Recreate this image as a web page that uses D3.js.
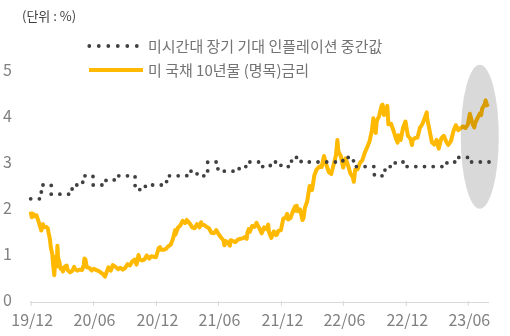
<!DOCTYPE html>
<html><head><meta charset="utf-8">
<script src="https://cdn.jsdelivr.net/npm/d3@7"></script>
<style>
body{margin:0;background:#fff;}
svg{display:block;font-family:"Noto Sans CJK KR","Noto Sans",sans-serif;}
</style></head><body>
<svg id="chart" width="510" height="336"></svg>
<script>
const unitLabel = "(단위 : %)";
const seriesNames = ["미시간대 장기 기대 인플레이션 중간값", "미 국채 10년물 (명목)금리"];
const yTicks = [0, 1, 2, 3, 4, 5];
const xTickDates = ["2019-12-31","2020-06-30","2020-12-31","2021-06-30","2021-12-31","2022-06-30","2022-12-31","2023-06-30"];
const xTickLabels = ["19/12","20/06","20/12","21/06","21/12","22/06","22/12","23/06"];
const axisEndDate = "2023-08-31";

// Michigan 5-10y inflation expectations (monthly, median)
const expMonths = ["2019-12","2020-01","2020-02","2020-03","2020-04","2020-05","2020-06","2020-07","2020-08","2020-09","2020-10","2020-11","2020-12",
  "2021-01","2021-02","2021-03","2021-04","2021-05","2021-06","2021-07","2021-08","2021-09","2021-10","2021-11","2021-12",
  "2022-01","2022-02","2022-03","2022-04","2022-05","2022-06","2022-07","2022-08","2022-09","2022-10","2022-11","2022-12",
  "2023-01","2023-02","2023-03","2023-04","2023-05","2023-06","2023-07","2023-08"];
const expValues = [2.2,2.5,2.3,2.3,2.5,2.7,2.5,2.6,2.7,2.7,2.4,2.5,2.5,
  2.7,2.7,2.8,2.7,3.0,2.8,2.8,2.9,3.0,2.9,3.0,2.9,
  3.1,3.0,3.0,3.0,3.0,3.1,2.9,2.9,2.7,2.9,3.0,2.9,
  2.9,2.9,2.9,3.0,3.1,3.0,3.0,3.0];

// US 10y Treasury yield (nominal)
const ust10y = [
["2019-12-31",1.92],["2020-01-03",1.80],["2020-01-08",1.87],["2020-01-10",1.82],["2020-01-17",1.84],["2020-01-24",1.68],["2020-01-31",1.51],
["2020-02-05",1.65],["2020-02-07",1.58],["2020-02-14",1.59],["2020-02-19",1.56],["2020-02-21",1.47],["2020-02-25",1.33],["2020-02-28",1.13],
["2020-03-03",1.00],["2020-03-06",0.74],["2020-03-09",0.54],["2020-03-11",0.82],["2020-03-13",0.94],["2020-03-16",0.73],["2020-03-18",1.18],
["2020-03-20",0.92],["2020-03-24",0.82],["2020-03-27",0.68],["2020-03-31",0.70],["2020-04-03",0.62],["2020-04-09",0.73],["2020-04-14",0.75],["2020-04-17",0.65],
["2020-04-24",0.60],["2020-05-01",0.64],["2020-05-06",0.72],["2020-05-08",0.68],["2020-05-15",0.64],["2020-05-22",0.66],["2020-05-29",0.65],
["2020-06-03",0.76],["2020-06-05",0.90],["2020-06-08",0.88],["2020-06-12",0.71],["2020-06-19",0.70],["2020-06-26",0.64],["2020-07-02",0.68],
["2020-07-10",0.65],["2020-07-17",0.63],["2020-07-24",0.59],["2020-07-31",0.55],["2020-08-04",0.51],["2020-08-07",0.57],["2020-08-14",0.71],
["2020-08-21",0.64],["2020-08-27",0.76],["2020-09-04",0.72],["2020-09-11",0.67],["2020-09-18",0.70],["2020-09-25",0.66],["2020-10-02",0.70],
["2020-10-09",0.78],["2020-10-16",0.75],["2020-10-23",0.84],["2020-10-30",0.88],["2020-11-04",0.77],["2020-11-06",0.82],["2020-11-10",0.98],
["2020-11-13",0.89],["2020-11-20",0.86],["2020-11-27",0.88],["2020-12-04",0.97],["2020-12-11",0.90],["2020-12-18",0.95],["2020-12-24",0.94],
["2020-12-31",0.93],["2021-01-08",1.13],["2021-01-12",1.15],["2021-01-15",1.09],["2021-01-22",1.09],["2021-01-29",1.11],["2021-02-05",1.17],
["2021-02-12",1.20],["2021-02-19",1.34],["2021-02-25",1.52],["2021-02-26",1.42],["2021-03-05",1.57],["2021-03-12",1.62],["2021-03-19",1.72],
["2021-03-26",1.67],["2021-03-31",1.74],["2021-04-02",1.72],["2021-04-09",1.66],["2021-04-16",1.58],["2021-04-23",1.56],["2021-04-30",1.65],
["2021-05-07",1.58],["2021-05-12",1.69],["2021-05-14",1.63],["2021-05-21",1.63],["2021-05-28",1.59],["2021-06-04",1.56],["2021-06-11",1.46],
["2021-06-18",1.45],["2021-06-25",1.52],["2021-07-02",1.43],["2021-07-09",1.36],["2021-07-16",1.30],["2021-07-19",1.19],["2021-07-23",1.28],
["2021-07-30",1.24],["2021-08-04",1.18],["2021-08-06",1.30],["2021-08-13",1.28],["2021-08-20",1.26],["2021-08-27",1.31],["2021-09-03",1.33],
["2021-09-10",1.34],["2021-09-17",1.37],["2021-09-22",1.33],["2021-09-24",1.46],["2021-09-28",1.54],["2021-10-01",1.48],["2021-10-08",1.61],
["2021-10-15",1.59],["2021-10-21",1.68],["2021-10-22",1.65],["2021-10-29",1.56],["2021-11-05",1.45],["2021-11-12",1.58],["2021-11-19",1.54],
["2021-11-24",1.64],["2021-11-26",1.48],["2021-12-03",1.35],["2021-12-10",1.49],["2021-12-17",1.41],["2021-12-20",1.43],["2021-12-23",1.50],
["2021-12-31",1.52],["2022-01-07",1.77],["2022-01-14",1.79],["2022-01-18",1.87],["2022-01-21",1.75],["2022-01-28",1.78],["2022-02-04",1.93],
["2022-02-10",2.03],["2022-02-11",1.94],["2022-02-15",2.05],["2022-02-18",1.93],["2022-02-25",1.97],["2022-03-04",1.74],["2022-03-07",1.78],
["2022-03-11",2.00],["2022-03-18",2.15],["2022-03-25",2.48],["2022-04-01",2.39],["2022-04-08",2.72],["2022-04-14",2.83],["2022-04-22",2.90],
["2022-04-29",2.89],["2022-05-06",3.13],["2022-05-13",2.93],["2022-05-20",2.78],["2022-05-27",2.74],["2022-06-03",2.94],["2022-06-10",3.15],
["2022-06-14",3.48],["2022-06-17",3.23],["2022-06-24",3.13],["2022-07-01",2.88],["2022-07-08",3.08],["2022-07-15",2.93],["2022-07-22",2.75],
["2022-07-29",2.67],["2022-08-01",2.57],["2022-08-05",2.83],["2022-08-12",2.84],["2022-08-19",2.98],["2022-08-26",3.04],["2022-09-02",3.20],
["2022-09-09",3.32],["2022-09-16",3.45],["2022-09-23",3.69],["2022-09-27",3.95],["2022-09-30",3.83],["2022-10-04",3.63],["2022-10-07",3.89],["2022-10-14",4.00],
["2022-10-21",4.22],["2022-10-24",4.25],["2022-10-28",4.02],["2022-11-04",4.17],["2022-11-07",4.22],["2022-11-10",3.82],["2022-11-18",3.83],
["2022-11-25",3.68],["2022-12-02",3.51],["2022-12-07",3.42],["2022-12-09",3.58],["2022-12-16",3.48],["2022-12-23",3.75],["2022-12-30",3.88],
["2023-01-06",3.57],["2023-01-13",3.51],["2023-01-18",3.37],["2023-01-20",3.48],["2023-01-27",3.52],["2023-02-03",3.53],["2023-02-10",3.74],
["2023-02-17",3.82],["2023-02-24",3.95],["2023-03-02",4.08],["2023-03-03",3.96],["2023-03-10",3.70],["2023-03-17",3.43],["2023-03-24",3.38],
["2023-03-31",3.48],["2023-04-06",3.29],["2023-04-14",3.52],["2023-04-21",3.57],["2023-04-28",3.44],["2023-05-04",3.37],["2023-05-12",3.46],
["2023-05-19",3.67],["2023-05-26",3.80],["2023-06-02",3.69],["2023-06-09",3.74],["2023-06-16",3.77],["2023-06-23",3.74],["2023-06-30",3.81],
["2023-07-06",4.05],["2023-07-14",3.83],["2023-07-19",3.75],["2023-07-21",3.84],["2023-07-28",3.95],["2023-08-04",4.05],["2023-08-08",4.02],
["2023-08-11",4.16],["2023-08-18",4.25],["2023-08-21",4.34],["2023-08-25",4.24],["2023-08-28",4.20]
];
// highlight annotation (date, value) for the grey ellipse centre
const highlightCenter = ["2023-08-04", 3.55];

const parse = d3.timeParse("%Y-%m-%d");
const parseMonth = d3.timeParse("%Y-%m");
const svg = d3.select("#chart");

const x = d3.scaleTime().domain([parse("2019-12-31"), parse("2023-06-30")]).range([30.7, 467.8]);
const y = d3.scaleLinear().domain([0, 5]).range([300, 70]);

// unit label
svg.append("text").attr("x", 22).attr("y", 20.5).attr("font-size", 13).attr("fill", "#404040").text(unitLabel);

// y labels
svg.append("g").selectAll("text").data(yTicks).join("text")
  .attr("x", 3).attr("y", d => y(d) + 6).attr("font-size", 16).attr("fill", "#808080").text(d => d);

// x axis
const axisY = 302.5;
svg.append("line").attr("x1", 30).attr("x2", x(parse(axisEndDate))).attr("y1", axisY).attr("y2", axisY)
  .attr("stroke", "#d9d9d9").attr("stroke-width", 1);
const xAxis = d3.axisBottom(x).tickValues(xTickDates.map(parse)).tickFormat((d, i) => xTickLabels[i]).tickSize(5).tickPadding(9);
const gx = svg.append("g").attr("transform", `translate(0,${axisY - 1.5})`).call(xAxis);
gx.select(".domain").remove();
gx.selectAll(".tick line").attr("stroke", "#d9d9d9");
gx.selectAll(".tick text").attr("font-size", 16).attr("fill", "#808080").attr("font-family", '"Noto Sans CJK KR","Noto Sans",sans-serif').attr("dx", 1);

// yield line
const yieldData = ust10y.map(d => ({date: parse(d[0]), value: d[1]}));
const lineGen = d3.line().x(d => x(d.date)).y(d => y(d.value));
svg.append("path").datum(yieldData).attr("d", lineGen)
  .attr("fill", "none").attr("stroke", "#FFB900").attr("stroke-width", 4).attr("stroke-linejoin", "round");

// highlight ellipse
svg.append("ellipse").attr("cx", x(parse(highlightCenter[0]))).attr("cy", y(highlightCenter[1]))
  .attr("rx", 19).attr("ry", 72).attr("fill", "#d9d9d9").style("mix-blend-mode", "multiply");

// expectations dotted step line
const expData = expMonths.map((m, i) => ({date: d3.timeDay.offset(d3.timeMonth.offset(parseMonth(m), 1), -1), value: expValues[i]}));
const stepGen = d3.line().curve(d3.curveStepAfter).x(d => x(d.date)).y(d => y(d.value));
svg.append("path").datum(expData).attr("d", stepGen)
  .attr("fill", "none").attr("stroke", "#404040").attr("stroke-width", 3.8)
  .attr("stroke-linecap", "round").attr("stroke-dasharray", "0 8.7");

// legend
svg.append("line").attr("x1", 89.3).attr("x2", 137).attr("y1", 46).attr("y2", 46)
  .attr("stroke", "#404040").attr("stroke-width", 3.8).attr("stroke-linecap", "round").attr("stroke-dasharray", "0 9.5");
svg.append("text").attr("x", 148).attr("y", 51.5).attr("font-size", 15).attr("fill", "#737373").text(seriesNames[0]);
svg.append("line").attr("x1", 89).attr("x2", 143).attr("y1", 70).attr("y2", 70)
  .attr("stroke", "#FFB900").attr("stroke-width", 4);
svg.append("text").attr("x", 148).attr("y", 75.5).attr("font-size", 15).attr("fill", "#737373").text(seriesNames[1]);
</script>
</body></html>
